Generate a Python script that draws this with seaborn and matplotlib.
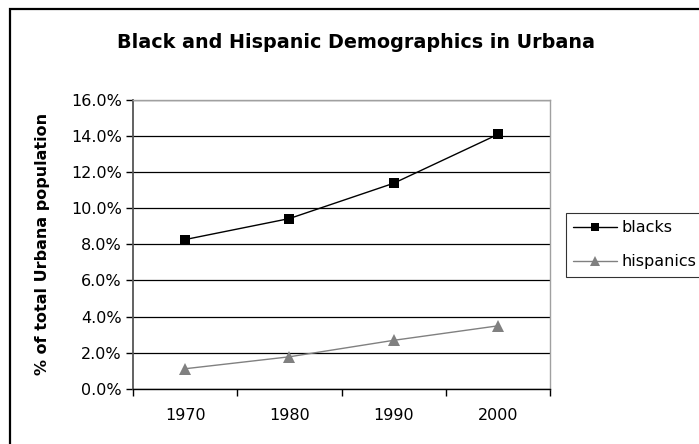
import matplotlib
matplotlib.use("Agg")
import matplotlib.pyplot as plt
from matplotlib.patches import Rectangle
from matplotlib.ticker import FixedLocator, FuncFormatter
import seaborn as sns
import pandas as pd

# Census years and share of Urbana's total population
years = [1970, 1980, 1990, 2000]
blacks = [8.26, 9.42, 11.37, 14.07]
hispanics = [1.12, 1.78, 2.69, 3.49]
series_names = ["blacks", "hispanics"]
y_ticks = [0, 2, 4, 6, 8, 10, 12, 14, 16]

df = pd.DataFrame({
    "year": years * 2,
    "pct": blacks + hispanics,
    "group": [series_names[0]] * len(years) + [series_names[1]] * len(years),
})

sns.set_theme(style="white")
plt.rcParams["font.family"] = ["DejaVu Sans"]
plt.rcParams.update({
    "text.color": "black",
    "axes.labelcolor": "black",
    "xtick.color": "black",
    "ytick.color": "black",
})

fig = plt.figure(figsize=(6.99, 4.44), dpi=100)
ax = fig.add_axes([133 / 699, 1 - 389 / 444, (550 - 133) / 699, (389 - 99.5) / 444])

sns.lineplot(
    data=df, x="year", y="pct", hue="group", style="group",
    palette={"blacks": "black", "hispanics": "#808080"},
    markers={"blacks": "s", "hispanics": "^"},
    dashes={"blacks": "", "hispanics": ""},
    markersize=7, linewidth=1, markeredgewidth=0,
    ax=ax, legend=False,
)
# a slightly larger triangle for the second series
for line in ax.lines[1:2]:
    line.set_markersize(8)

ax.set_xlim(1965, 2005)
ax.set_ylim(0, 16)

ax.xaxis.set_major_locator(FixedLocator(years))
ax.xaxis.set_minor_locator(FixedLocator([1965, 1975, 1985, 1995, 2005]))
ax.set_xticklabels([str(y) for y in years])
ax.yaxis.set_major_locator(FixedLocator(y_ticks))
ax.yaxis.set_major_formatter(FuncFormatter(lambda v, p: f"{v:.1f}%"))

ax.tick_params(axis="x", which="major", length=0, pad=14, labelsize=11.5, colors="black")
ax.tick_params(axis="x", which="minor", length=5, width=1, color="black", direction="out", bottom=True)
ax.tick_params(axis="y", which="major", length=5, width=1, color="black", direction="out",
               left=True, pad=3, labelsize=11.5, labelcolor="black")

ax.yaxis.grid(True, color="black", linewidth=0.9)
ax.xaxis.grid(False)
ax.set_axisbelow(True)

for side in ["top", "right"]:
    ax.spines[side].set_color("#a0a0a0")
    ax.spines[side].set_linewidth(1)
ax.spines["left"].set_color("#555555")
ax.spines["left"].set_linewidth(1.3)
ax.spines["bottom"].set_color("black")
ax.spines["bottom"].set_linewidth(1)

ax.set_xlabel("")
ax.set_ylabel("% of total Urbana population", fontsize=11.5, fontweight="bold",
              labelpad=15, color="black")

fig.text(356 / 699, 1 - 42 / 444, "Black and Hispanic Demographics in Urbana",
         ha="center", va="center", fontsize=13.8, fontweight="bold", color="black")

# chart area frame
fig.patches.append(Rectangle((10 / 699, -0.1), 1.2, 1 - 9 / 444 + 0.1,
                             transform=fig.transFigure, fill=False,
                             edgecolor="black", linewidth=1.6))

handles = [
    plt.Line2D([], [], color="black", marker="s", markersize=6, linewidth=1, markeredgewidth=0),
    plt.Line2D([], [], color="#808080", marker="^", markersize=7, linewidth=1, markeredgewidth=0),
]
leg = fig.legend(handles, series_names, loc="upper left",
                 bbox_to_anchor=(566 / 699, 1 - 213 / 444), fontsize=11.5,
                 frameon=True, fancybox=False, shadow=False, borderpad=0.45,
                 handlelength=2.75, handletextpad=0.25, labelspacing=1.2,
                 borderaxespad=0)
leg.get_frame().set_edgecolor("black")
leg.get_frame().set_linewidth(0.8)
for t in leg.get_texts():
    t.set_color("black")

fig.savefig("out.png", dpi=100)
